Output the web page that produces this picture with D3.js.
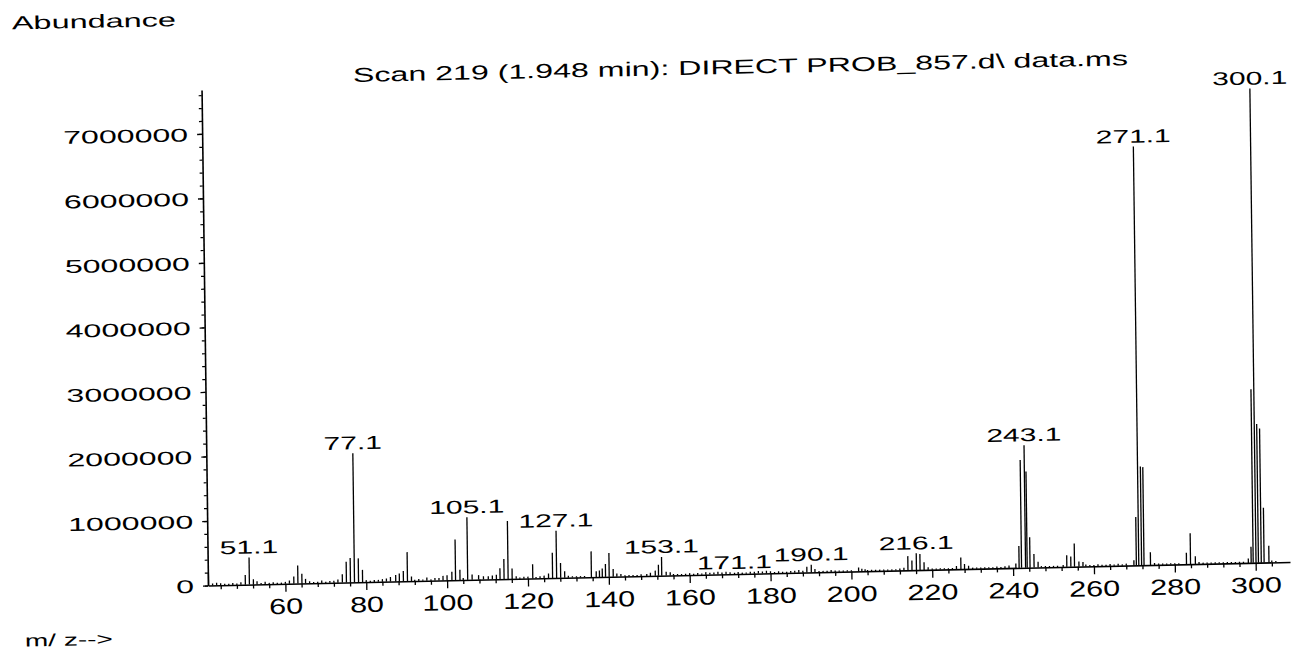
<!DOCTYPE html>
<html><head><meta charset="utf-8">
<script src="https://cdn.jsdelivr.net/npm/d3@7"></script>
<style>
body{margin:0;background:#fff}
svg{display:block;background:#fff}
text{font-family:"Liberation Sans",Arial,Helvetica,sans-serif;fill:#000}
</style>
</head><body>
<svg id="c" width="1291" height="652"></svg>
<script>
// ---------- data ----------
const titleText = "Scan 219 (1.948 min): DIRECT PROB_857.d\\ data.ms";
const yAxisTitle = "Abundance";
const xAxisTitle = "m/ z-->";

const mz = [
 41.0,42,43,44,45,46,47,48,49,50.1,51.1,52.1,53,54,55,56,57,58,59,60,61,62.1,63.1,64.1,65,66,67,68,69,70,
 71,72,73,74.1,75.1,76.1,77.1,78.1,79.1,80,81,82,83,84,85,86,87.3,88.2,89.2,90.2,91.2,92,93,94,95,96,97,98,99,100,
 101.2,102.1,103.2,104,105.1,106.2,107.8,109,110.2,111.2,112.2,113.1,114.1,115.1,116.1,117.1,118,119,120,121.2,
 122,123,124,125.1,126.1,127.1,128.1,129.1,130,131,132,133,134,135.7,136.9,137.7,138.4,139.2,140.1,141.1,142,143,
 144,145,146,147,148,149.4,150.3,151.5,152.3,153.1,154.2,155.2,156,157,158,159,160,161,162,163,164,165,166,167,
 168,169,170,171.1,172,173,174,175,176,177,178,179,180,181,182,183,184,185,186,187,188,189,190.1,191,192,193,194,
 195,196,197,198,199,200,201.8,202.6,203.4,204,205,206,207,208,209,210,211,212,213,214,215,216.1,217,218,219,220,
 221,222,223,224,225,226,227.1,228,229,230,231,232,233,234,235,236,237,238,239,240.7,241.5,242.1,243.1,243.5,244.2,
 245.2,246.2,247,248,249,250,251,252.4,253.3,254.3,255.2,256.3,257.3,258,259,260,261,262,263,264,265,266,267,268,
 269.9,270.5,271.1,271.8,272.4,274,275,276,277,278,279,280,281,282.9,283.9,285.1,286,287,288,289,290,291,292,293,
 294,295,296,297,298.2,298.9,299.4,300.1,300.7,301.4,302.1,303.3,304,305
];
const abundance = [
 200000,30000,40000,30000,20000,20000,30000,20000,40000,150000,420000,80000,50000,20000,40000,20000,30000,20000,20000,30000,50000,110000,280000,150000,70000,30000,20000,20000,40000,20000,
 30000,30000,50000,130000,320000,380000,2000000,370000,190000,30000,20000,30000,30000,40000,50000,70000,100000,120000,160000,450000,70000,20000,30000,20000,50000,20000,40000,40000,70000,80000,
 130000,630000,160000,30000,970000,80000,70000,50000,50000,60000,70000,170000,310000,900000,160000,40000,20000,30000,30000,220000,
 20000,30000,40000,70000,390000,730000,230000,100000,30000,20000,20000,20000,20000,400000,90000,100000,130000,200000,370000,120000,50000,40000,
 20000,20000,20000,20000,30000,30000,50000,80000,170000,290000,60000,50000,20000,20000,20000,20000,30000,20000,30000,20000,40000,30000,30000,40000,
 30000,40000,30000,20000,30000,20000,20000,30000,30000,40000,30000,40000,30000,20000,30000,20000,20000,30000,30000,40000,30000,90000,120000,50000,20000,20000,20000,
 30000,20000,20000,20000,20000,20000,60000,40000,30000,20000,20000,20000,20000,20000,20000,20000,20000,30000,40000,220000,150000,260000,250000,120000,40000,20000,
 20000,20000,20000,20000,20000,50000,180000,80000,50000,20000,20000,20000,20000,20000,20000,30000,20000,30000,40000,70000,340000,1670000,1900000,1490000,470000,
 210000,90000,20000,20000,20000,20000,20000,30000,180000,160000,360000,80000,70000,30000,20000,20000,30000,20000,20000,30000,20000,30000,20000,30000,
 80000,750000,6490000,1530000,1520000,200000,30000,20000,20000,20000,20000,20000,20000,180000,480000,120000,30000,20000,20000,20000,20000,20000,20000,20000,
 20000,20000,20000,20000,70000,250000,2690000,7350000,2150000,2080000,850000,260000,30000,20000
];
const labeledPeaks = [51.1, 77.1, 105.1, 127.1, 153.1, 171.1, 190.1, 216.1, 243.1, 271.1, 300.1];
const xTickValues = [60, 80, 100, 120, 140, 160, 180, 200, 220, 240, 260, 280, 300];
const yTickValues = [0, 1000000, 2000000, 3000000, 4000000, 5000000, 6000000, 7000000];

// ---------- layout ----------
const svg = d3.select("#c");
// the scanned page is slightly skewed: draw upright, then skew the whole plot frame
const g = svg.append("g").attr("transform", "matrix(1,-0.0217,0.013,1,208,585.5)");

const x = d3.scaleLinear().domain([40.86, 308.5]).range([0, 1082]);
const y = d3.scaleLinear().domain([0, 7680000]).range([0, -495.5]);

function widthOf(s, digitW, dotW) {
  return s.split("").reduce((a, ch) => a + (ch === "." ? dotW : digitW), 0);
}

// x axis minor ticks
const xMinor = d3.range(44, 308, 4).filter(v => v % 20 !== 0);
g.append("g")
  .call(d3.axisBottom(x).tickValues(xMinor).tickSize(4).tickSizeOuter(0).tickFormat(""))
  .call(s => s.select(".domain").remove())
  .call(s => s.selectAll("line").attr("stroke", "#000").attr("stroke-width", 1.3));

// x axis major
const xAxis = g.append("g")
  .call(d3.axisBottom(x).tickValues(xTickValues).tickSize(8).tickSizeOuter(0).tickFormat(d => String(d)));
xAxis.select(".domain").attr("stroke", "#000").attr("stroke-width", 1.6);
xAxis.selectAll("line").attr("stroke", "#000").attr("stroke-width", 1.3);
xAxis.selectAll("text").each(function(d) {
  const s = String(d), L = widthOf(s, 17, 9);
  d3.select(this).attr("text-anchor", "start").attr("x", -L / 2).attr("y", 30).attr("dy", null)
    .attr("font-size", 22).attr("font-family", null).attr("fill", "#000")
    .attr("textLength", L).attr("lengthAdjust", "spacingAndGlyphs");
});

// y axis minor ticks
g.append("g")
  .call(d3.axisLeft(y).tickValues(d3.range(0, 7680000, 200000)).tickSize(3).tickSizeOuter(0).tickFormat(""))
  .call(s => s.select(".domain").remove())
  .call(s => s.selectAll("line").attr("stroke", "#000").attr("stroke-width", 1.2));

// y axis major
const yAxis = g.append("g")
  .call(d3.axisLeft(y).tickValues(yTickValues).tickSize(5).tickSizeOuter(0).tickFormat(d => String(d)));
yAxis.select(".domain").attr("stroke", "#000").attr("stroke-width", 1.6);
yAxis.selectAll("line").attr("stroke", "#000").attr("stroke-width", 1.3);
yAxis.selectAll("text").each(function(d) {
  const s = String(d), L = widthOf(s, 17.86, 9);
  d3.select(this).attr("text-anchor", "start").attr("x", -14 - L).attr("y", 6.6).attr("dy", null)
    .attr("font-size", 18.5).attr("font-family", null).attr("fill", "#000")
    .attr("textLength", L).attr("lengthAdjust", "spacingAndGlyphs");
});

// peaks
const peaks = d3.zip(mz, abundance);
g.append("g").selectAll("line").data(peaks).join("line")
  .attr("x1", d => x(d[0])).attr("x2", d => x(d[0]))
  .attr("y1", 0).attr("y2", d => y(d[1]))
  .attr("stroke", "#000").attr("stroke-width", 1.3);

// peak labels
g.append("g").selectAll("text").data(labeledPeaks).join("text")
  .each(function(m) {
    const i = mz.indexOf(m);
    const s = m.toFixed(1), L = widthOf(s, 16.5, 9);
    d3.select(this).text(s)
      .attr("x", x(m) - L / 2).attr("y", y(abundance[i]) - 4)
      .attr("font-size", 18.5)
      .attr("textLength", L).attr("lengthAdjust", "spacingAndGlyphs");
  });

// title (part of the skewed frame)
g.append("text").text(titleText)
  .attr("x", 151.5).attr("y", -500.2).attr("font-size", 20)
  .attr("textLength", 775).attr("lengthAdjust", "spacingAndGlyphs");

// page labels
svg.append("text").text(yAxisTitle)
  .attr("x", 12).attr("y", 29.3).attr("font-size", 18.5)
  .attr("textLength", 164).attr("lengthAdjust", "spacingAndGlyphs")
  .attr("transform", "rotate(-1.1,12,29)");
svg.append("text").text(xAxisTitle)
  .attr("x", 25).attr("y", 646.5).attr("font-size", 17)
  .attr("textLength", 88).attr("lengthAdjust", "spacingAndGlyphs")
  .attr("transform", "rotate(-1.1,25,646)");
</script>
</body></html>
